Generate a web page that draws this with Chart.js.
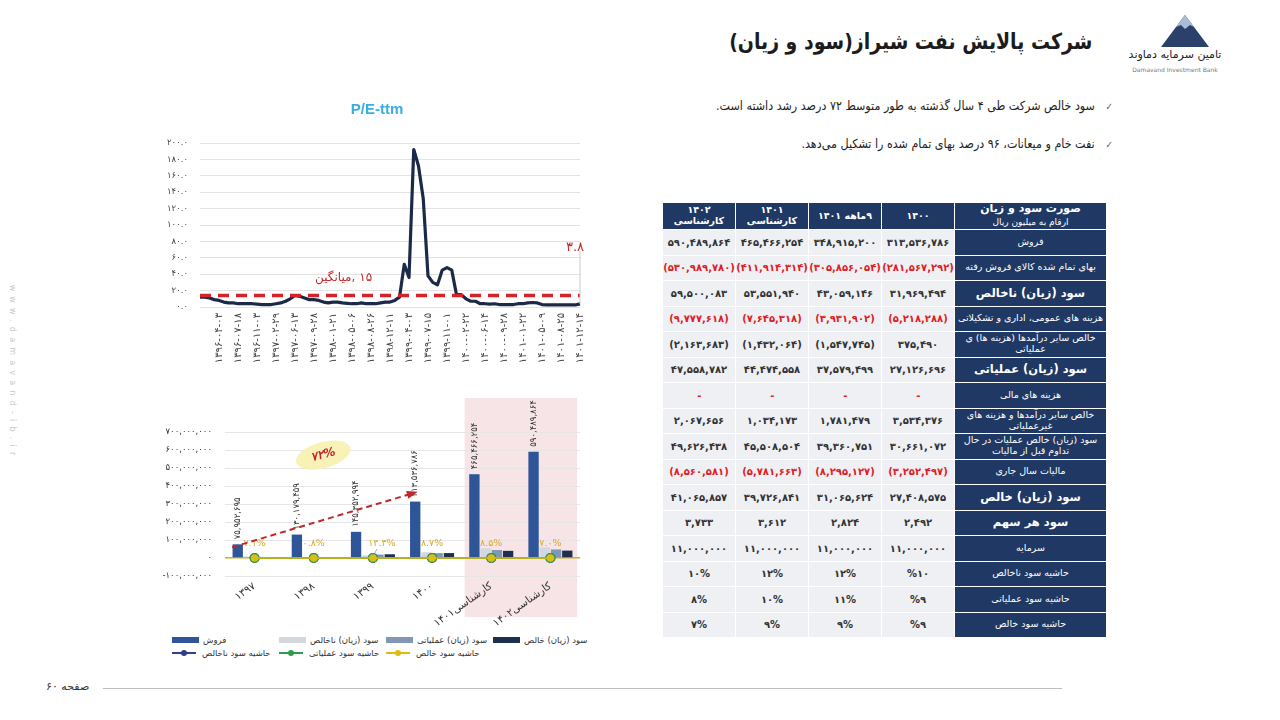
<!DOCTYPE html>
<html lang="fa">
<head>
<meta charset="utf-8">
<script src="https://cdn.jsdelivr.net/npm/chart.js@4.4.1/dist/chart.umd.min.js"></script>
<style>
html,body{margin:0;padding:0;background:#fff;}
body{width:1280px;height:720px;position:relative;overflow:hidden;font-family:"DejaVu Sans",sans-serif;color:#222;}
.abs{position:absolute;}
#title{right:188px;top:29px;font-size:22px;font-weight:bold;direction:rtl;white-space:nowrap;color:#1c1c1c;transform:scaleX(0.86);transform-origin:right center;}
.bullet{direction:rtl;white-space:nowrap;font-size:12.5px;color:#222;transform:scaleX(0.89);transform-origin:right center;}
.bullet .ck{color:#666;font-size:10px;margin-left:12px;}
#tbl{left:662px;top:202px;width:439px;border-collapse:collapse;direction:rtl;table-layout:fixed;}
#tbl td{border:1.5px solid #fff;text-align:center;padding:0;line-height:1.15;}
#tbl td.lab{background:#203864;color:#fff;font-size:9.5px;}
#tbl td.lab.b{font-size:11.5px;font-weight:bold;}
#tbl td.val{background:#eef0f4;color:#333;font-weight:bold;font-size:10px;direction:ltr;letter-spacing:-0.5px;}
#tbl td.val.red{color:#e0201e;}
#tbl tr.hd td{background:#203864;color:#fff;font-weight:bold;font-size:9.5px;}
#legend{left:172px;top:635px;font-size:8.5px;color:#333;display:grid;grid-template-columns:107px 107px 107px 107px;row-gap:3px;}
#legend .it{display:flex;align-items:center;white-space:nowrap;height:10px;}
#legend .bx{width:27px;height:6px;margin-right:4px;}
#legend .ln{width:24px;height:1.5px;margin-right:6px;position:relative;}
#legend .ln i{position:absolute;left:9px;top:-2.5px;width:6px;height:6px;border-radius:50%;}
#wm{left:-88px;top:368px;transform:rotate(90deg);font-size:8px;letter-spacing:5.2px;color:#c8c8c8;white-space:nowrap;width:200px;text-align:center;}
#footer{left:46px;top:680px;font-size:11px;color:#333;direction:rtl;}
#fline{left:103px;top:688px;width:959px;height:1px;background:#bdbdbd;}
</style>
</head>
<body>
<div id="title" class="abs">شرکت پالایش نفت شیراز(سود و زیان)</div>
<svg class="abs" style="left:1150px;top:8px" width="80" height="45">
  <polygon points="35,7 11,39 59,39" fill="#2b416c"/>
  <polygon points="35,7 26,19 31,17 35,21 40,17 44,19" fill="#a9bdd6"/>
</svg>
<div class="abs" style="left:1120px;top:48px;width:110px;text-align:center;font-size:11px;direction:rtl;color:#222;white-space:nowrap;">تامین سرمایه دماوند</div>
<div class="abs" style="left:1120px;top:66px;width:110px;text-align:center;font-size:6px;color:#777;white-space:nowrap;">Damavand Investment Bank</div>

<div class="abs bullet" style="right:167px;top:98px;"><span class="ck">✓</span>سود خالص شرکت طی ۴ سال گذشته به طور متوسط  ۷۲ درصد رشد داشته است.</div>
<div class="abs bullet" style="right:167px;top:136px;"><span class="ck">✓</span>نفت خام و میعانات، ۹۶ درصد بهای تمام شده را تشکیل می‌دهد.</div>

<div id="wm" class="abs">www.damavand-ib.ir</div>

<canvas id="pe" class="abs" style="left:158px;top:95px;" width="440" height="282"></canvas>
<canvas id="bar" class="abs" style="left:155px;top:395px;" width="435" height="232"></canvas>
<div id="legend" class="abs"></div>

<table id="tbl" class="abs"></table>

<div id="footer" class="abs">صفحه ۶۰</div>
<div id="fline" class="abs"></div>

<script>
// ---------------- DATA ----------------
const peTickLabels = ['1396-04-03','1396-07-18','1396-11-03','1397-02-29','1397-06-13','1397-09-28','1398-01-21','1398-05-06','1398-08-26','1398-12-11','1399-04-03','1399-07-15','1399-11-01','1400-02-22','1400-06-14','1400-09-28','1401-01-22','1401-05-09','1401-08-25','1401-12-14'];
const pePointsPerTick = 4;
const peValues = [12,12,11,9,8,6,5,5,4,4,
  4,4,3.5,3,3,3,4,5,7,10,
  14,13,11,9,9,8,6,5,6,6,
  5,4.5,4,4,5,4,4,4,5,6,
  6,8,12,52,36,192,172,132,38,30,
  27,45,48,45,15,15,10,7,7,4,
  4,3.5,4,3,3,3,3,4,4,5,
  5.5,5,3,2.5,2.5,2.5,2.5,2.5,2.5,2.5,3.8];
const peAverage = 14;
const peAverageWord = 'میانگین,';
const peAverageNumber = '۱۵';
const peAverageLabelPos = [31, 36];
const peLastLabel = '۳.۸';
const peYTicks = [0,20,40,60,80,100,120,140,160,180,200];

const barCategories = ['۱۳۹۷','۱۳۹۸','۱۳۹۹','۱۴۰۰','کارشناسی۱۴۰۱','کارشناسی۱۴۰۲'];
const sales = [75952695,130179459,145352994,313536786,465466254,590489864];
const grossProfit = [8000000,5500000,15000000,31969494,53551940,59500083];
const operatingProfit = [6000000,3000000,19000000,27126696,44474558,47558782];
const netProfit = [5400000,1040000,20800000,27408575,39726841,41065857];
const grossMargin = [0.118,0.046,0.124,0.102,0.115,0.101];
const operatingMargin = [0.092,0.027,0.151,0.087,0.096,0.081];
const netMargin = [0.071,0.008,0.143,0.087,0.085,0.070];
const barYTicks = [-100000000,0,100000000,200000000,300000000,400000000,500000000,600000000,700000000];
const growthArrow = {from:[-0.38,60000000], to:[2.71,363000000]};
const growthLabel = {text:'۷۲%', at:[1.16,572000000]};

const seriesNames = ['فروش','سود (زیان) ناخالص','سود (زیان) عملیاتی','سود (زیان) خالص','حاشیه سود ناخالص','حاشیه سود عملیاتی','حاشیه سود خالص'];
const seriesColors = ['#2e5597','#d3d8df','#8098b3','#1f2f4f','#2f3f8a','#2e9e4a','#e0bb12'];

const tableHeader = ['صورت سود و زیان<br><span style="font-weight:normal;font-size:9px">ارقام به میلیون ریال</span>','۱۴۰۰','۹ماهه ۱۴۰۱','۱۴۰۱<br>کارشناسی','۱۴۰۲<br>کارشناسی'];
const tableRows = [
  ['فروش','', ['۳۱۳,۵۳۶,۷۸۶','۳۴۸,۹۱۵,۲۰۰','۴۶۵,۴۶۶,۲۵۴','۵۹۰,۴۸۹,۸۶۴']],
  ['بهای تمام شده کالای فروش رفته','r', ['(۲۸۱,۵۶۷,۲۹۲)','(۳۰۵,۸۵۶,۰۵۴)','(۴۱۱,۹۱۴,۳۱۴)','(۵۳۰,۹۸۹,۷۸۰)']],
  ['سود (زیان) ناخالص','b', ['۳۱,۹۶۹,۴۹۴','۴۳,۰۵۹,۱۴۶','۵۳,۵۵۱,۹۴۰','۵۹,۵۰۰,۰۸۳']],
  ['هزینه های عمومی، اداری و تشکیلاتی','r', ['(۵,۲۱۸,۲۸۸)','(۳,۹۳۱,۹۰۲)','(۷,۶۴۵,۳۱۸)','(۹,۷۷۷,۶۱۸)']],
  ['خالص سایر درآمدها (هزینه ها) ی عملیاتی','', ['۳۷۵,۴۹۰','(۱,۵۴۷,۷۴۵)','(۱,۴۳۲,۰۶۴)','(۲,۱۶۳,۶۸۳)']],
  ['سود (زیان) عملیاتی','b', ['۲۷,۱۲۶,۶۹۶','۳۷,۵۷۹,۴۹۹','۴۴,۴۷۴,۵۵۸','۴۷,۵۵۸,۷۸۲']],
  ['هزینه های مالی','r', ['-','-','-','-']],
  ['خالص سایر درآمدها و هزینه های غیرعملیاتی','', ['۳,۵۳۴,۳۷۶','۱,۷۸۱,۴۷۹','۱,۰۳۴,۱۷۳','۲,۰۶۷,۶۵۶']],
  ['سود (زیان) خالص عملیات در حال تداوم قبل از مالیات','', ['۳۰,۶۶۱,۰۷۲','۳۹,۳۶۰,۷۵۱','۴۵,۵۰۸,۵۰۴','۴۹,۶۲۶,۴۳۸']],
  ['مالیات سال جاری','r', ['(۳,۲۵۲,۴۹۷)','(۸,۲۹۵,۱۲۷)','(۵,۷۸۱,۶۶۳)','(۸,۵۶۰,۵۸۱)']],
  ['سود (زیان) خالص','b', ['۲۷,۴۰۸,۵۷۵','۳۱,۰۶۵,۶۲۴','۳۹,۷۲۶,۸۴۱','۴۱,۰۶۵,۸۵۷']],
  ['سود هر سهم','b', ['۲,۴۹۲','۲,۸۲۴','۳,۶۱۲','۳,۷۳۳']],
  ['سرمایه','', ['۱۱,۰۰۰,۰۰۰','۱۱,۰۰۰,۰۰۰','۱۱,۰۰۰,۰۰۰','۱۱,۰۰۰,۰۰۰']],
  ['حاشیه سود ناخالص','', ['%۱۰','۱۲%','۱۲%','۱۰%']],
  ['حاشیه سود عملیاتی','', ['%۹','۱۱%','۱۰%','۸%']],
  ['حاشیه سود خالص','', ['%۹','۹%','۹%','۷%']]
];

// ---------------- HELPERS ----------------
const FA = '۰۱۲۳۴۵۶۷۸۹';
const toFa = s => String(s).replace(/\d/g, d => FA[d]);
const fmt = n => toFa(Math.round(n).toLocaleString('en-US'));
const FONT = '"DejaVu Sans", sans-serif';
Chart.defaults.font.family = FONT;
Chart.defaults.color = '#333';

// ---------------- TABLE ----------------
(function(){
  const t = document.getElementById('tbl');
  let h = '<tr class="hd" style="height:27px">';
  tableHeader.forEach((c,i)=>{ h += '<td style="width:'+(i===0?151:72)+'px;'+(i===0?'font-size:11px':'')+'">'+c+'</td>'; });
  h += '</tr>';
  tableRows.forEach(r=>{
    h += '<tr style="height:25.5px"><td class="lab'+(r[1]==='b'?' b':'')+'">'+r[0]+'</td>';
    r[2].forEach(v=>{ h += '<td class="val'+(r[1]==='r'?' red':'')+'">'+v+'</td>'; });
    h += '</tr>';
  });
  t.innerHTML = h;
})();

// ---------------- LEGEND ----------------
(function(){
  const lg = document.getElementById('legend');
  let h = '';
  for (let i=0;i<4;i++) h += '<div class="it"><span class="bx" style="background:'+seriesColors[i]+'"></span><span dir="rtl">'+seriesNames[i]+'</span></div>';
  for (let i=4;i<7;i++) h += '<div class="it"><span class="ln" style="background:'+seriesColors[i]+'"><i style="background:'+seriesColors[i]+'"></i></span><span dir="rtl">'+seriesNames[i]+'</span></div>';
  lg.innerHTML = h;
})();

// ---------------- P/E CHART ----------------
const peLabels = peValues.map((v,i)=> (i>0 && i%pePointsPerTick===0) ? toFa(peTickLabels[i/pePointsPerTick-1]) : '');
const peDecor = {
  id:'peDecor',
  afterDatasetsDraw(chart){
    const {ctx, chartArea:a, scales:{x,y}} = chart;
    const ya = y.getPixelForValue(peAverage);
    ctx.save();
    ctx.strokeStyle = '#d5232a'; ctx.lineWidth = 3.5; ctx.setLineDash([11,7]);
    ctx.beginPath(); ctx.moveTo(a.left, ya); ctx.lineTo(a.right, ya); ctx.stroke();
    ctx.setLineDash([]);
    ctx.fillStyle = '#c62828'; ctx.font = '12px '+FONT; ctx.textBaseline='middle';
    const lx0 = x.getPixelForValue(peAverageLabelPos[0]), ly0 = y.getPixelForValue(peAverageLabelPos[1]);
    ctx.textAlign='right'; ctx.fillText(peAverageWord, lx0+8, ly0);
    ctx.textAlign='left'; ctx.fillText(peAverageNumber, lx0+12, ly0);
    const li = peValues.length-1;
    const lx = x.getPixelForValue(li);
    ctx.strokeStyle = '#c8c8c8'; ctx.lineWidth = 1;
    ctx.beginPath(); ctx.moveTo(lx, y.getPixelForValue(68)); ctx.lineTo(lx, y.getPixelForValue(peValues[li])); ctx.stroke();
    ctx.font = '13px '+FONT; ctx.textAlign='right';
    ctx.fillText(peLastLabel, lx+4, y.getPixelForValue(72));
    ctx.restore();
  }
};
new Chart(document.getElementById('pe'), {
  type:'line',
  data:{ labels: peLabels, datasets:[{ data: peValues, borderColor:'#1b2a47', borderWidth:3.2, pointRadius:0, tension:0, borderJoinStyle:'round' }]},
  options:{
    responsive:false, animation:false, devicePixelRatio:1,
    layout:{ padding:{ right:2, left:0 } },
    plugins:{ legend:{display:false}, tooltip:{enabled:false},
      title:{ display:true, text:'P/E-ttm', color:'#3aaee0', font:{size:15, weight:'bold', family:'Arial, "Liberation Sans", sans-serif'}, padding:{top:6,bottom:24} } },
    scales:{
      x:{ grid:{display:false, drawTicks:false}, border:{display:false},
          ticks:{ autoSkip:false, minRotation:90, maxRotation:90, padding:6, color:'#444', font:{size:10} },
          afterFit(s){ s.height = 70; } },
      y:{ min:0, max:200, grid:{color:'#e3e3e3', drawTicks:false}, border:{display:false},
          afterBuildTicks(s){ s.ticks = peYTicks.map(v=>({value:v})); },
          ticks:{ padding:12, color:'#444', font:{size:8.5}, callback:v=>toFa(Number(v).toFixed(1)) },
          afterFit(s){ s.width = 42; } }
    }
  },
  plugins:[peDecor]
});

// ---------------- BAR CHART ----------------
const barDecor = {
  id:'barDecor',
  beforeDraw(chart){
    const {ctx, chartArea:a, scales:{x}} = chart;
    const x0 = x.getPixelForValue(3.55), x1 = x.getPixelForValue(5.45);
    ctx.save(); ctx.fillStyle = '#f7e4e7';
    ctx.fillRect(x0, a.top-34, x1-x0, a.bottom+41-(a.top-34));
    ctx.restore();
  },
  afterDatasetsDraw(chart){
    const {ctx, scales:{x,y}} = chart;
    ctx.save();
    const m0 = chart.getDatasetMeta(0);
    ctx.fillStyle = '#333'; ctx.font = '8.5px '+FONT; ctx.textAlign='left'; ctx.textBaseline='middle';
    m0.data.forEach((b,i)=>{
      ctx.save(); ctx.translate(b.x, b.y-5); ctx.rotate(-Math.PI/2);
      ctx.fillText(fmt(sales[i]), 0, 0); ctx.restore();
    });
    const m6 = chart.getDatasetMeta(6);
    ctx.fillStyle = '#d6a928'; ctx.font = '9.5px '+FONT; ctx.textAlign='center';
    m6.data.forEach((p,i)=>{
      const dx = i===2 ? 9 : 0;
      if (i===2){ ctx.strokeStyle='#9a9a9a'; ctx.lineWidth=0.8; ctx.beginPath(); ctx.moveTo(p.x+4,p.y-9); ctx.lineTo(p.x+1,p.y-3); ctx.stroke(); }
      ctx.fillText(toFa((netMargin[i]*100).toFixed(1))+'%', p.x+dx, p.y-14);
    });
    const ax0 = x.getPixelForValue(growthArrow.from[0]), ay0 = y.getPixelForValue(growthArrow.from[1]);
    const ax1 = x.getPixelForValue(growthArrow.to[0]), ay1 = y.getPixelForValue(growthArrow.to[1]);
    ctx.strokeStyle = '#c0282d'; ctx.lineWidth = 2; ctx.setLineDash([6,4]);
    ctx.beginPath(); ctx.moveTo(ax0,ay0); ctx.lineTo(ax1,ay1); ctx.stroke(); ctx.setLineDash([]);
    const ang = Math.atan2(ay1-ay0, ax1-ax0);
    ctx.fillStyle = '#c0282d'; ctx.beginPath();
    ctx.moveTo(ax1+3*Math.cos(ang), ay1+3*Math.sin(ang));
    ctx.lineTo(ax1-8*Math.cos(ang)+4*Math.sin(ang), ay1-8*Math.sin(ang)-4*Math.cos(ang));
    ctx.lineTo(ax1-8*Math.cos(ang)-4*Math.sin(ang), ay1-8*Math.sin(ang)+4*Math.cos(ang));
    ctx.closePath(); ctx.fill();
    const ex = x.getPixelForValue(growthLabel.at[0]), ey = y.getPixelForValue(growthLabel.at[1]);
    ctx.translate(ex, ey); ctx.rotate(-0.26);
    ctx.fillStyle = '#f8f2b6'; ctx.beginPath(); ctx.ellipse(0,0,28,13,0,0,Math.PI*2); ctx.fill();
    ctx.fillStyle = '#c0282d'; ctx.font = 'italic bold 12px '+FONT; ctx.textAlign='center'; ctx.textBaseline='middle';
    ctx.fillText(growthLabel.text, 0, 0);
    ctx.restore();
  }
};
const barSets = [sales, grossProfit, operatingProfit, netProfit].map((d,i)=>({
  type:'bar', label:seriesNames[i], data:d, backgroundColor:seriesColors[i], order:10,
  categoryPercentage:0.76, barPercentage:0.92
}));
const lineSets = [grossMargin, operatingMargin, netMargin].map((d,i)=>({
  type:'line', label:seriesNames[4+i], data:d, borderColor:seriesColors[4+i], backgroundColor:seriesColors[4+i],
  pointBackgroundColor: seriesColors[4+i], pointBorderWidth:0,
  pointRadius: i===2 ? 3.8 : 5, borderWidth:1.5, order: 3-i
}));
new Chart(document.getElementById('bar'), {
  data:{ labels: barCategories, datasets: barSets.concat(lineSets) },
  options:{
    responsive:false, animation:false, devicePixelRatio:1,
    layout:{ padding:{ top:37, right:10 } },
    plugins:{ legend:{display:false}, tooltip:{enabled:false} },
    scales:{
      x:{ grid:{display:false, drawTicks:false}, border:{display:false},
          ticks:{ autoSkip:false, minRotation:35, maxRotation:35, padding:4, color:'#333', font:{size:10.5} },
          afterFit(s){ s.height = 51; } },
      y:{ min:-100000000, max:700000000,
          grid:{ drawTicks:false, color:c => c.tick && c.tick.value===0 ? '#d4ad1c' : '#e6e6e6', lineWidth:c => c.tick && c.tick.value===0 ? 1.5 : 1 },
          border:{display:false},
          afterBuildTicks(s){ s.ticks = barYTicks.map(v=>({value:v})); },
          ticks:{ padding:13, color:'#333', font:{size:8.5}, callback:v=> (v<0?'-':'')+fmt(Math.abs(v)) },
          afterFit(s){ s.width = 70; } }
    }
  },
  plugins:[barDecor]
});
</script>
</body>
</html>
